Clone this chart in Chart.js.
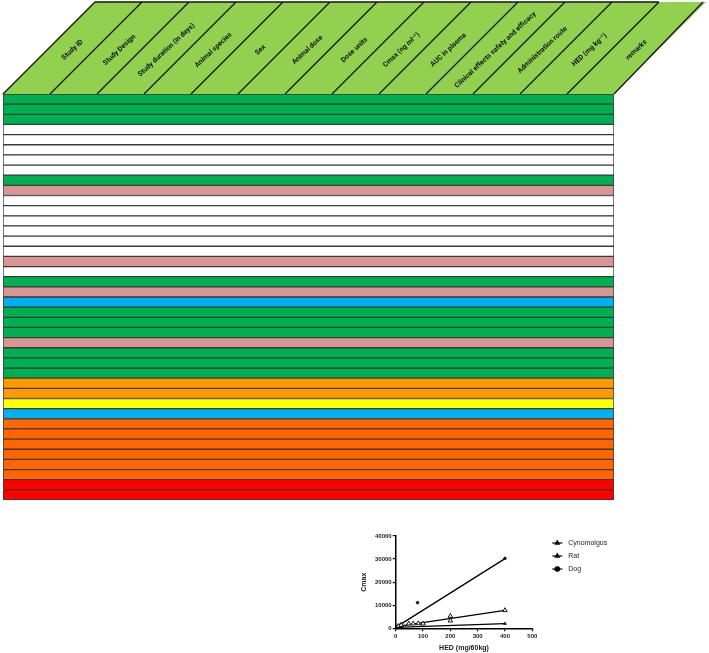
<!DOCTYPE html>
<html>
<head>
<meta charset="utf-8">
<script src="https://cdn.jsdelivr.net/npm/chart.js@4.4.1/dist/chart.umd.min.js"></script>
<style>
    html, body { margin: 0; padding: 0; background: #fff; overflow: hidden; }
    #wrap { position: relative; width: 709px; height: 653px; }
    #tableChart { position: absolute; left: 0; top: 0; }
    #cmaxChart { position: absolute; left: 340px; top: 520px; }
</style>
</head>
<body>
<div id="wrap">
    <canvas id="tableChart" width="709" height="505"></canvas>
    <canvas id="cmaxChart" width="369" height="133"></canvas>
</div>
<script>
// Column headings of the summary table
const columnLabels = [
    'Study ID', 'Study Design', 'Study duration (in days)', 'Animal species', 'Sex',
    'Animal dose', 'Dose units', 'Cmax (ng ml\u207B\u00B9)', 'AUC in plasma',
    'Clinical effects safety and efficacy', 'Administration route',
    'HED (mg kg\u207B\u00B9)', 'remarks'
];

// One row per study, top to bottom
const rowLabels = [
    '1', '2', '3', '4', '5', '6', '7', '8', '9', '10',
    '11', '12', '13', '14', '15', '16', '17', '18', '19', '20',
    '21', '22', '23', '24', '25', '26', '27', '28', '29', '30',
    '31', '32', '33', '34', '35', '36', '37', '38', '39', '40'
];

// Every row runs across all 13 columns
const rowSpan = [
    13, 13, 13, 13, 13, 13, 13, 13, 13, 13,
    13, 13, 13, 13, 13, 13, 13, 13, 13, 13,
    13, 13, 13, 13, 13, 13, 13, 13, 13, 13,
    13, 13, 13, 13, 13, 13, 13, 13, 13, 13
];

// Colour code of each row
const GRN = '#00b050', WHT = '#ffffff', PNK = '#da9694', BLU = '#00b0f0';
const ORG = '#ff9900', YEL = '#ffff00', DOR = '#ff6600', RED = '#ff0000';
const rowColors = [
    GRN, GRN, GRN, WHT, WHT, WHT, WHT, WHT, GRN, PNK,
    WHT, WHT, WHT, WHT, WHT, WHT, PNK, WHT, GRN, PNK,
    BLU, GRN, GRN, GRN, PNK, GRN, GRN, GRN, ORG, ORG,
    YEL, BLU, DOR, DOR, DOR, DOR, DOR, DOR, RED, RED
];

// Scatter data: HED (mg/60kg) against Cmax
const cynoHed = [10, 20, 48, 64, 83, 100, 200, 200, 400];
const cynoCmax = [900, 1400, 2000, 2000, 2100, 2000, 5300, 3300, 7800];
const ratHed = [5, 10, 20, 400];
const ratCmax = [200, 500, 700, 2000];
const dogHed = [5, 10, 20, 80, 400];
const dogCmax = [500, 1100, 1800, 11100, 30300];

// Fitted lines, read at HED 0 and 400
const fitHed = [0, 400];
const cynoFit = [700, 7800];
const ratFit = [400, 2000];
const dogFit = [400, 30200];

const toPoints = (xs, ys) => xs.map((x, i) => ({ x: x, y: ys[i] }));

// Slanted header with the column names
const headerPlugin = {
    id: 'slantHeader',
    afterDraw: function (chart) {
        const ctx = chart.ctx;
        const xs = chart.scales.x;
        const bottom = chart.chartArea.top;
        const top = 2;
        const slant = bottom - top;
        const n = columnLabels.length;
        const px = v => xs.getPixelForValue(v);

        ctx.save();
        ctx.fillStyle = '#92d050';
        ctx.beginPath();
        ctx.moveTo(px(0), bottom);
        ctx.lineTo(px(0) + slant, top);
        ctx.lineTo(px(n) + slant, top);
        ctx.lineTo(px(n), bottom);
        ctx.closePath();
        ctx.fill();

        ctx.strokeStyle = '#151515';
        ctx.lineWidth = 1.3;
        ctx.beginPath();
        ctx.moveTo(px(0), bottom);
        ctx.lineTo(px(0) + slant, top);
        ctx.lineTo(px(n - 1) + slant, top);
        for (let i = 1; i < n; i++) {
            ctx.moveTo(px(i), bottom);
            ctx.lineTo(px(i) + slant, top);
        }
        ctx.moveTo(px(n) + slant - 3, top);
        ctx.lineTo(px(n), bottom);
        ctx.stroke();

        ctx.fillStyle = '#111';
        ctx.font = 'bold 7px Roboto';
        ctx.textAlign = 'center';
        ctx.textBaseline = 'middle';
        for (let i = 0; i < n; i++) {
            const cx = (px(i) + px(i + 1)) / 2 + slant / 2;
            const cy = (top + bottom) / 2 + 2;
            ctx.save();
            ctx.translate(cx, cy);
            ctx.rotate(-43 * Math.PI / 180);
            ctx.fillText(columnLabels[i], 0, 0);
            ctx.restore();
        }
        ctx.restore();
    }
};

new Chart(document.getElementById('tableChart'), {
    type: 'bar',
    data: {
        labels: rowLabels,
        datasets: [{
            data: rowSpan,
            backgroundColor: rowColors,
            borderColor: '#3a3a3a',
            borderWidth: 1,
            borderSkipped: false,
            categoryPercentage: 1,
            barPercentage: 1
        }]
    },
    options: {
        indexAxis: 'y',
        responsive: false,
        animation: false,
        layout: { padding: { left: 3, top: 94, right: 95, bottom: 5 } },
        scales: {
            x: { display: false, min: 0, max: columnLabels.length },
            y: { display: false }
        },
        plugins: { legend: { display: false }, tooltip: { enabled: false } }
    },
    plugins: [headerPlugin]
});

// Legend drawn as line + marker, like the original
const lineLegend = {
    id: 'lineLegend',
    afterDraw: function (chart) {
        const ctx = chart.ctx;
        const x0 = chart.chartArea.right + 20;
        let y = chart.chartArea.top + 7;
        ctx.save();
        chart.data.datasets.forEach(function (ds) {
            if (ds.isFit) return;
            ctx.strokeStyle = '#000';
            ctx.lineWidth = 1.2;
            ctx.beginPath();
            ctx.moveTo(x0, y);
            ctx.lineTo(x0 + 10, y);
            ctx.stroke();
            Chart.helpers.drawPoint(ctx, {
                pointStyle: ds.pointStyle,
                radius: 2.2,
                rotation: 0,
                borderWidth: 1
            }, x0 + 5, y);
            ctx.fillStyle = '#000';
            ctx.fill();
            ctx.fillStyle = '#222';
            ctx.font = '7px "Liberation Sans"';
            ctx.textAlign = 'left';
            ctx.textBaseline = 'middle';
            ctx.fillText(ds.label, x0 + 16, y);
            y += 13;
        });
        ctx.restore();
    }
};

const tickFont = { family: '"Liberation Sans"', size: 6, weight: 'bold' };
const titleFont = { family: '"Liberation Sans"', size: 7, weight: 'bold' };

new Chart(document.getElementById('cmaxChart'), {
    type: 'scatter',
    data: {
        datasets: [
            {
                label: 'Cynomolgus',
                data: toPoints(cynoHed, cynoCmax),
                pointStyle: 'triangle',
                pointRadius: 2.6,
                backgroundColor: '#fff',
                borderColor: '#000',
                borderWidth: 0.9
            },
            {
                label: 'Rat',
                data: toPoints(ratHed, ratCmax),
                pointStyle: 'triangle',
                pointRadius: 1.8,
                backgroundColor: '#000',
                borderColor: '#000',
                borderWidth: 0.5
            },
            {
                label: 'Dog',
                data: toPoints(dogHed, dogCmax),
                pointStyle: 'circle',
                pointRadius: 1.4,
                backgroundColor: '#000',
                borderColor: '#000',
                borderWidth: 0.5
            },
            { isFit: true, data: toPoints(fitHed, cynoFit), showLine: true, borderColor: '#000', borderWidth: 1.3, pointRadius: 0 },
            { isFit: true, data: toPoints(fitHed, ratFit), showLine: true, borderColor: '#000', borderWidth: 1.3, pointRadius: 0 },
            { isFit: true, data: toPoints(fitHed, dogFit), showLine: true, borderColor: '#000', borderWidth: 1.3, pointRadius: 0 }
        ]
    },
    options: {
        responsive: false,
        animation: false,
        layout: { padding: { left: 16, top: 16, right: 176.7, bottom: 0 } },
        scales: {
            x: {
                min: 0,
                max: 500,
                ticks: { stepSize: 100, font: tickFont, color: '#222', padding: 1, maxRotation: 0 },
                grid: { drawOnChartArea: false, drawTicks: true, tickLength: 3, color: '#000', lineWidth: 1.2 },
                border: { color: '#000', width: 1.5 },
                title: { display: true, text: 'HED (mg/60kg)', font: titleFont, color: '#222', padding: { top: 0, bottom: 1 } },
                afterFit: function (s) { s.height = 24.7; }
            },
            y: {
                min: 0,
                max: 40000,
                ticks: {
                    stepSize: 10000, font: tickFont, color: '#222', padding: 1,
                    callback: function (v) { return String(v); }
                },
                grid: { drawOnChartArea: false, drawTicks: true, tickLength: 3, color: '#000', lineWidth: 1.2 },
                border: { color: '#000', width: 1.5 },
                title: { display: true, text: 'Cmax', font: titleFont, color: '#222', padding: { top: 4, bottom: 2 } },
                afterFit: function (s) { s.width = 39.7; }
            }
        },
        plugins: { legend: { display: false }, tooltip: { enabled: false } }
    },
    plugins: [lineLegend]
});
</script>
</body>
</html>
